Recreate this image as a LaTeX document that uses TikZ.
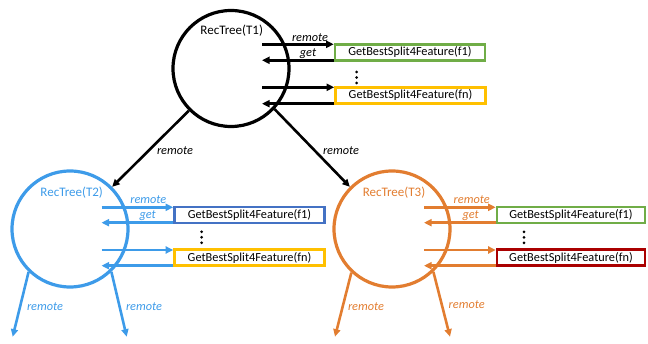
\documentclass[tikz,border=0pt]{standalone}
\usepackage{fontspec}
\setmainfont{Carlito}
\usetikzlibrary{arrows.meta,calc}
\definecolor{tblue}{RGB}{61,155,233}
\definecolor{torange}{RGB}{226,125,48}
\definecolor{bgreen}{RGB}{112,173,71}
\definecolor{bgold}{RGB}{255,192,0}
\definecolor{bblue}{RGB}{68,114,196}
\definecolor{bred}{RGB}{170,0,0}
\tikzset{
  tree/.style={circle,draw,line width=3.2pt,minimum size=116pt,inner sep=0pt},
  treelabel/.style={font=\fontsize{13}{15}\selectfont,inner sep=0pt},
  featbox/.style={draw,line width=2.6pt,minimum width=150pt,minimum height=16pt,inner sep=0pt,font=\fontsize{12.3}{14}\selectfont,text=black},
  conn/.style={line width=2.6pt,-{Triangle[length=7.5pt,width=7pt]}},
  lbl/.style={font=\itshape\fontsize{12.3}{14}\selectfont,inner sep=0pt},
}
\begin{document}
\begin{tikzpicture}[x=1pt,y=1pt]
\useasboundingbox (0,0) rectangle (648,344);
% circles
\node[tree] (T1) at (231,275.5) {};
\node[tree,draw=tblue] (T2) at (70,115) {};
\node[tree,draw=torange] (T3) at (392,115) {};
\node[treelabel] (L1) at (231.7,313) {RecTree(T1)};
\node[treelabel,text=tblue] (L2) at (71.7,151.3) {RecTree(T2)};
\node[treelabel,text=torange] (L3) at (394,151.3) {RecTree(T3)};
% boxes
\node[featbox,draw=bgreen] (B1a) at (410,291.7) {GetBestSplit4Feature(f1)};
\node[featbox,draw=bgold] (B1n) at (410.5,248.5) {GetBestSplit4Feature(fn)};
\node[featbox,draw=bblue] (B2a) at (249.5,129) {GetBestSplit4Feature(f1)};
\node[featbox,draw=bgold] (B2n) at (249.5,86.2) {GetBestSplit4Feature(fn)};
\node[featbox,draw=bgreen,minimum width=148pt] (B3a) at (571,129) {GetBestSplit4Feature(f1)};
\node[featbox,draw=bred,minimum width=148pt] (B3n) at (571,86.2) {GetBestSplit4Feature(fn)};
% start coordinates of horizontal arrows
\coordinate (s1a) at (262,299.7);
\coordinate (g1a) at (262,283.7);
\coordinate (s1n) at (262,256.7);
\coordinate (g1n) at (262,240.3);
\coordinate (s2a) at (101.5,136.7);
\coordinate (g2a) at (101.5,121.3);
\coordinate (s2n) at (101.5,94);
\coordinate (g2n) at (101.5,78.3);
\coordinate (s3a) at (424,136.7);
\coordinate (g3a) at (424,121.3);
\coordinate (s3n) at (424,94);
\coordinate (g3n) at (424,78.3);
% T1 arrows
\draw[conn] (s1a) -- (s1a -| B1a.west);
\draw[conn] (g1a -| B1a.west) -- (g1a);
\draw[conn] (s1n) -- (s1n -| B1n.west);
\draw[conn] (g1n -| B1n.west) -- (g1n);
\node[lbl] (r1) at (310,306) {remote};
\node[lbl] (q1) at (308,290) {get};
% T2 arrows
\draw[conn,tblue] (s2a) -- (s2a -| B2a.west);
\draw[conn,tblue] (g2a -| B2a.west) -- (g2a);
\draw[conn,tblue] (s2n) -- (s2n -| B2n.west);
\draw[conn,tblue] (g2n -| B2n.west) -- (g2n);
\node[lbl,text=tblue] (r2) at (148.3,144) {remote};
\node[lbl,text=tblue] (q2) at (147.7,128.3) {get};
% T3 arrows
\draw[conn,torange] (s3a) -- (s3a -| B3a.west);
\draw[conn,torange] (g3a -| B3a.west) -- (g3a);
\draw[conn,torange] (s3n) -- (s3n -| B3n.west);
\draw[conn,torange] (g3n -| B3n.west) -- (g3n);
\node[lbl,text=torange] (r3) at (471.7,144) {remote};
\node[lbl,text=torange] (q3) at (470.7,128.3) {get};
% vertical dots
\foreach \x/\y in {356.7/266.5, 201.7/106.7, 524/106.7}{
  \foreach \d in {-5.5,0,5.5}{\fill (\x,\y+\d) circle (1.5pt);}
}
% tree arrows
\draw[conn] (T1.225) -- (T2.45);
\draw[conn] (T1.317) -- (T3.135);
\node[lbl] (t12) at (175,193.3) {remote};
\node[lbl] (t13) at (341,193.3) {remote};
% T2 children
\coordinate (c2l) at (12.7,7.3);
\coordinate (c2r) at (126.7,7.3);
\draw[conn,tblue] (T2.226) -- (c2l);
\draw[conn,tblue] (T2.314) -- (c2r);
\node[lbl,text=tblue] (t2l) at (45,37) {remote};
\node[lbl,text=tblue] (t2r) at (144,37.3) {remote};
% T3 children
\coordinate (c3l) at (335,7.3);
\coordinate (c3r) at (450,7.3);
\draw[conn,torange] (T3.227) -- (c3l);
\draw[conn,torange] (T3.314) -- (c3r);
\node[lbl,text=torange] (t3l) at (366,37.3) {remote};
\node[lbl,text=torange] (t3r) at (466.7,39) {remote};
\end{tikzpicture}
\end{document}
